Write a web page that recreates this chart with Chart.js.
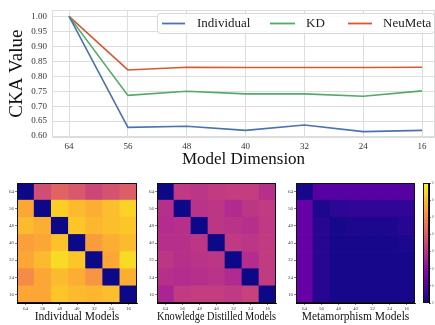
<!DOCTYPE html>
<html>
<head>
<meta charset="utf-8">
<script src="https://cdn.jsdelivr.net/npm/chart.js@4.4.0/dist/chart.umd.min.js"></script>
<style>
body { margin:0; background:#fff; width:435px; height:325px; overflow:hidden; position:relative; }
canvas { position:absolute; }
</style>
</head>
<body>
<canvas id="lineChart" style="left:0;top:0" width="435" height="170"></canvas>
<canvas id="heat1" style="left:0;top:172px" width="145" height="153"></canvas>
<canvas id="heat2" style="left:143px;top:172px" width="145" height="153"></canvas>
<canvas id="heat3" style="left:285px;top:172px" width="133" height="153"></canvas>
<canvas id="cbar" style="left:418px;top:172px" width="17" height="153"></canvas>
<script>
const dims = ['64', '56', '48', '40', '32', '24', '16'];
const individual = [1.00, 0.629, 0.633, 0.619, 0.637, 0.615, 0.619];
const kd = [1.00, 0.736, 0.750, 0.741, 0.741, 0.733, 0.751];
const neumeta = [1.00, 0.821, 0.830, 0.829, 0.829, 0.829, 0.830];
const yTicks = [0.60, 0.65, 0.70, 0.75, 0.80, 0.85, 0.90, 0.95, 1.00];

// heatmap rows, top (64) to bottom (16)
const indivGrid = [
  [0.00, 0.52, 0.60, 0.56, 0.50, 0.54, 0.58],
  [0.80, 0.00, 0.90, 0.85, 0.82, 0.86, 0.91],
  [0.85, 0.82, 0.00, 0.88, 0.84, 0.86, 0.88],
  [0.78, 0.80, 0.87, 0.00, 0.77, 0.82, 0.85],
  [0.80, 0.85, 0.93, 0.88, 0.00, 0.80, 0.93],
  [0.72, 0.80, 0.85, 0.82, 0.75, 0.00, 0.82],
  [0.80, 0.80, 0.88, 0.85, 0.84, 0.86, 0.00]
];
const kdGrid = [
  [0.00, 0.45, 0.44, 0.46, 0.47, 0.47, 0.42],
  [0.42, 0.00, 0.43, 0.44, 0.40, 0.44, 0.46],
  [0.41, 0.42, 0.00, 0.44, 0.43, 0.42, 0.45],
  [0.42, 0.42, 0.44, 0.00, 0.45, 0.44, 0.46],
  [0.44, 0.42, 0.43, 0.44, 0.00, 0.41, 0.46],
  [0.42, 0.41, 0.42, 0.43, 0.40, 0.00, 0.46],
  [0.38, 0.46, 0.47, 0.47, 0.45, 0.48, 0.00]
];
const metaGrid = [
  [0.02, 0.15, 0.15, 0.15, 0.15, 0.15, 0.15],
  [0.19, 0.03, 0.06, 0.07, 0.07, 0.07, 0.07],
  [0.19, 0.05, 0.02, 0.03, 0.03, 0.03, 0.05],
  [0.19, 0.05, 0.02, 0.02, 0.02, 0.02, 0.03],
  [0.19, 0.05, 0.02, 0.02, 0.02, 0.02, 0.02],
  [0.19, 0.05, 0.02, 0.02, 0.02, 0.02, 0.02],
  [0.19, 0.05, 0.02, 0.02, 0.02, 0.02, 0.02]
];
const cbarTicks = [0, 1, 2, 3, 4, 5, 6, 7];
const cbarLabels = ['0', '0', '0', '0', '0', '0', '0', '0'];

const plasmaStops = ['#0d0887','#41049d','#6a00a8','#8f0da4','#b12a90','#cc4778',
  '#e16462','#f2844b','#fca636','#fcce25','#f0f921'];
function hex(h) { return [1, 3, 5].map(i => parseInt(h.substr(i, 2), 16)); }
function plasma(t) {
  t = Math.max(0, Math.min(1, t)) * 10;
  const i = Math.min(9, Math.floor(t)), f = t - i;
  const a = hex(plasmaStops[i]), b = hex(plasmaStops[i + 1]);
  const c = a.map((v, k) => Math.round(v + (b[k] - v) * f));
  return 'rgb(' + c.join(',') + ')';
}

const serif = 'Liberation Serif';

function frame(color, onTop) {
  const draw = chart => {
    const { ctx, chartArea: a } = chart;
    ctx.save();
    ctx.strokeStyle = color;
    ctx.lineWidth = 1;
    ctx.strokeRect(Math.round(a.left) + 0.5, Math.round(a.top) + 0.5,
      Math.round(a.right - a.left) - 1, Math.round(a.bottom - a.top) - 1);
    ctx.restore();
  };
  return onTop ? { id: 'frame', afterDatasetsDraw: draw } : { id: 'frame', beforeDatasetsDraw: draw };
}

const boxLegend = {
  id: 'boxLegend',
  afterDraw(chart) {
    const ctx = chart.ctx;
    const spots = [[162, 185, 197], [270, 295, 306], [348, 372, 383]];
    ctx.save();
    ctx.fillStyle = 'rgba(255,255,255,0.85)';
    ctx.strokeStyle = '#d6d6d6';
    ctx.lineWidth = 1;
    ctx.beginPath();
    ctx.roundRect(157.5, 13.5, 277, 20, 3);
    ctx.fill();
    ctx.stroke();
    ctx.font = '13px ' + serif;
    ctx.textBaseline = 'middle';
    chart.data.datasets.forEach((ds, i) => {
      const s = spots[i];
      ctx.strokeStyle = ds.borderColor;
      ctx.lineWidth = 1.8;
      ctx.beginPath();
      ctx.moveTo(s[0], 23.5);
      ctx.lineTo(s[1], 23.5);
      ctx.stroke();
      ctx.fillStyle = '#222';
      ctx.fillText(ds.label, s[2], 24);
    });
    ctx.restore();
  }
};

new Chart(document.getElementById('lineChart'), {
  type: 'line',
  data: {
    datasets: [
      { label: 'Individual', data: individual.map((v, i) => ({ x: i, y: v })),
        borderColor: '#4c72b0', borderWidth: 1.6, pointRadius: 0 },
      { label: 'KD', data: kd.map((v, i) => ({ x: i, y: v })),
        borderColor: '#55a868', borderWidth: 1.6, pointRadius: 0 },
      { label: 'NeuMeta', data: neumeta.map((v, i) => ({ x: i, y: v })),
        borderColor: '#d9592f', borderWidth: 1.6, pointRadius: 0 }
    ]
  },
  options: {
    responsive: false,
    animation: false,
    layout: { padding: { top: 6, right: 0, left: 0, bottom: 0 } },
    plugins: { legend: { display: false }, tooltip: { enabled: false } },
    scales: {
      x: {
        type: 'linear', min: -0.29, max: 6.22,
        afterBuildTicks: s => { s.ticks = dims.map((d, i) => ({ value: i })); },
        afterFit: s => { s.height = 33; },
        ticks: { callback: v => dims[v], font: { family: serif, size: 9 }, color: '#333',
          padding: 4, maxRotation: 0 },
        grid: { color: '#dddddd', drawTicks: false },
        border: { color: '#dddddd' },
        title: { display: true, text: 'Model Dimension', color: '#111',
          font: { family: serif, size: 17 }, padding: { top: 0, bottom: 0 } }
      },
      y: {
        min: 0.597, max: 1.02,
        afterBuildTicks: s => { s.ticks = yTicks.map(v => ({ value: v })); },
        afterFit: s => { s.width = 52; },
        ticks: { callback: v => v.toFixed(2), font: { family: serif, size: 9 }, color: '#333',
          padding: 5 },
        grid: { color: '#dddddd', drawTicks: false },
        border: { color: '#dddddd' },
        title: { display: true, text: 'CKA Value', color: '#111',
          font: { family: serif, size: 19 }, padding: { top: 6, bottom: 0 } }
      }
    }
  },
  plugins: [frame('#dddddd', false), boxLegend]
});

function heatmap(id, grid, title, yWidth, rightPad) {
  const datasets = [];
  for (let j = 0; j < grid.length; j++) {
    const row = grid[grid.length - 1 - j];
    datasets.push({
      data: row.map(() => 1),
      backgroundColor: row.map(plasma),
      borderWidth: 0,
      barPercentage: 1,
      categoryPercentage: 1
    });
  }
  const tickGrid = { display: true, drawOnChartArea: false, offset: false, tickLength: 2,
    color: '#333', lineWidth: 0.6 };
  const tickFont = { family: serif, size: 5 };
  new Chart(document.getElementById(id), {
    type: 'bar',
    data: { labels: dims, datasets: datasets },
    options: {
      responsive: false,
      animation: false,
      layout: { padding: { top: 11, right: rightPad, left: 0, bottom: 0 } },
      plugins: { legend: { display: false }, tooltip: { enabled: false } },
      scales: {
        x: {
          stacked: true,
          afterFit: s => { s.height = 22; },
          ticks: { font: tickFont, color: '#444', padding: 1, maxRotation: 0, autoSkip: false },
          grid: tickGrid,
          border: { color: '#000' },
          title: { display: true, text: title, color: '#111',
            font: { family: serif, size: 11.5 }, padding: { top: 0, bottom: 1 } }
        },
        y: {
          stacked: true, min: 0, max: 7,
          afterBuildTicks: s => { s.ticks = dims.map((d, i) => ({ value: i + 0.5 })); },
          afterFit: s => { s.width = yWidth; },
          ticks: { callback: v => dims[6 - Math.floor(v)], font: tickFont, color: '#444',
            padding: 1 },
          grid: tickGrid,
          border: { color: '#000' }
        }
      }
    },
    plugins: [frame('#111', true)]
  });
}

heatmap('heat1', indivGrid, 'Individual Models', 17, 8);
heatmap('heat2', kdGrid, 'Knowledge Distilled Models', 14, 12);
heatmap('heat3', metaGrid, 'Metamorphism Models', 11, 3);

new Chart(document.getElementById('cbar'), {
  type: 'bar',
  data: {
    labels: [''],
    datasets: [{
      data: [7],
      borderWidth: 0,
      barPercentage: 1,
      categoryPercentage: 1,
      backgroundColor: c => {
        const a = c.chart.chartArea;
        if (!a) return plasmaStops[0];
        const g = c.chart.ctx.createLinearGradient(0, a.bottom, 0, a.top);
        plasmaStops.forEach((col, i) => g.addColorStop(i / 10, col));
        return g;
      }
    }]
  },
  options: {
    responsive: false,
    animation: false,
    layout: { padding: { top: 11, right: 0, left: 5, bottom: 22 } },
    plugins: { legend: { display: false }, tooltip: { enabled: false } },
    scales: {
      x: { display: false },
      y: {
        position: 'right', min: 0, max: 7,
        afterBuildTicks: s => { s.ticks = cbarTicks.map(v => ({ value: v })); },
        afterFit: s => { s.width = 6; },
        ticks: { callback: (v, i) => cbarLabels[i], font: { family: serif, size: 3.5 },
          color: '#666', padding: 1 },
        grid: { display: true, drawOnChartArea: false, tickLength: 2, color: '#333', lineWidth: 0.6 },
        border: { color: '#000' }
      }
    }
  },
  plugins: [frame('#111', true)]
});
</script>
</body>
</html>
